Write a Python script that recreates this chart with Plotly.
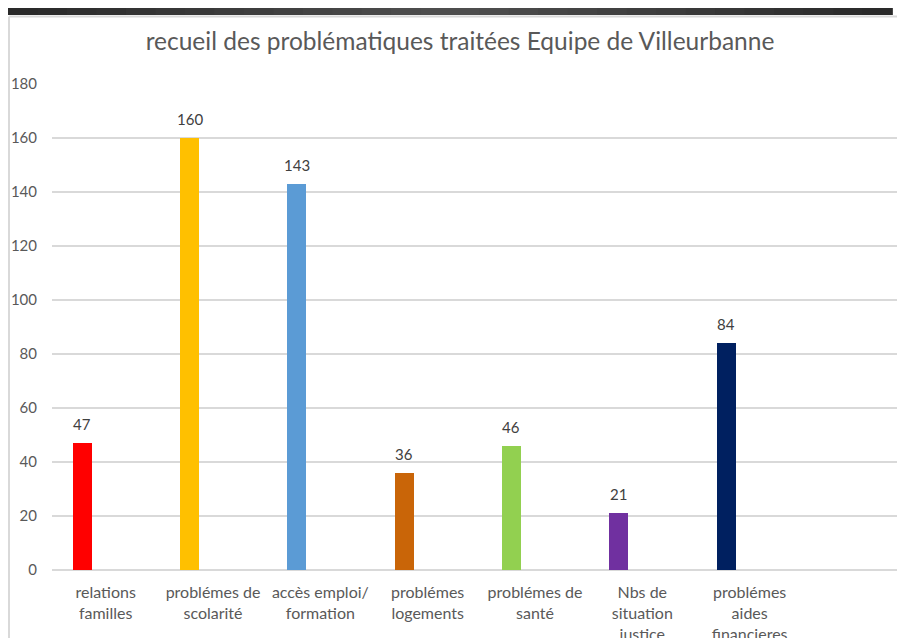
import plotly.graph_objects as go

# valeurs
categories = ["relations<br>familles", "problémes de<br>scolarité", "accès emploi/<br>formation",
              "problémes<br>logements", "problémes de<br>santé", "Nbs de<br>situation<br>justice",
              "problémes<br>aides<br>financieres"]
values = [47, 160, 143, 36, 46, 21, 84]
colors = ["#FF0000", "#FFC000", "#5B9BD5", "#C96508", "#92D050", "#7030A0", "#002060"]
y_ticks = [0, 20, 40, 60, 80, 100, 120, 140, 160, 180]

# la page ajoute 8px de marge autour de la figure
W, H = 897, 630
L, R, T, B = 44, 0, 76, 68
FONT = "Lato"
GREY = "#595959"

fig = go.Figure()
fig.add_trace(go.Bar(
    x=categories, y=values,
    marker_color=colors, marker_line_width=0,
    width=0.177, offset=-0.307,
    hoverinfo="x+y",
))

# étiquettes de données au-dessus des barres
for c, v in zip(categories, values):
    fig.add_annotation(x=c, y=v, text=str(v), showarrow=False,
                       xref="x", yref="y", xanchor="center", yanchor="bottom",
                       xshift=-23.5, yshift=8,
                       font=dict(family=FONT, size=15, color="#404040"))

# cadre : bandeau sombre en haut + bord gris clair
def px(x):
    return (x - L) / (W - L - R)

def py(y):
    return (H - B - y) / (H - T - B)

steps = 30
for i in range(steps):
    t = i / (steps - 1)
    g = int(0x2a + (0x50 - 0x2a) * (1 - abs(2 * t - 1)))
    x0 = 884 * i / steps
    x1 = 884 * (i + 1) / steps
    fig.add_shape(type="rect", xref="paper", yref="paper",
                  x0=px(x0), x1=px(x1) + 0.001, y0=py(7), y1=py(0),
                  fillcolor=f"rgb({g},{g},{g})", line_width=0, layer="above")
fig.add_shape(type="line", xref="paper", yref="paper",
              x0=px(1), x1=px(W), y0=py(8.5), y1=py(8.5),
              line=dict(color="#d9d9d9", width=2))
fig.add_shape(type="line", xref="paper", yref="paper",
              x0=px(1), x1=px(1), y0=py(8.5), y1=py(H),
              line=dict(color="#d9d9d9", width=2))

fig.update_layout(
    width=W, height=H,
    margin=dict(l=L, r=R, t=T, b=B, pad=0, autoexpand=False),
    paper_bgcolor="white", plot_bgcolor="white",
    showlegend=False,
    title=dict(text="recueil des problématiques traitées Equipe de Villeurbanne",
               x=452 / W, xanchor="center", y=1 - 33 / H, yanchor="middle",
               font=dict(family=FONT, size=24.5, color=GREY)),
    font=dict(family=FONT, size=15, color=GREY),
    bargap=0,
)
fig.update_xaxes(type="category", range=[-0.5, -0.5 + (W - L - R) / 107.33],
                 showgrid=False, showline=False, ticks="", automargin=False,
                 tickfont=dict(family=FONT, size=16, color=GREY),
                 ticklabelstandoff=11)
fig.update_yaxes(range=[0, 180], tickvals=y_ticks, showgrid=True, automargin=False,
                 gridcolor="#d9d9d9", gridwidth=1.5,
                 zeroline=True, zerolinecolor="#d9d9d9", zerolinewidth=1.5,
                 showline=False, ticks="",
                 tickfont=dict(family=FONT, size=15, color=GREY),
                 ticklabelstandoff=14)

fig.write_html("out.html")
